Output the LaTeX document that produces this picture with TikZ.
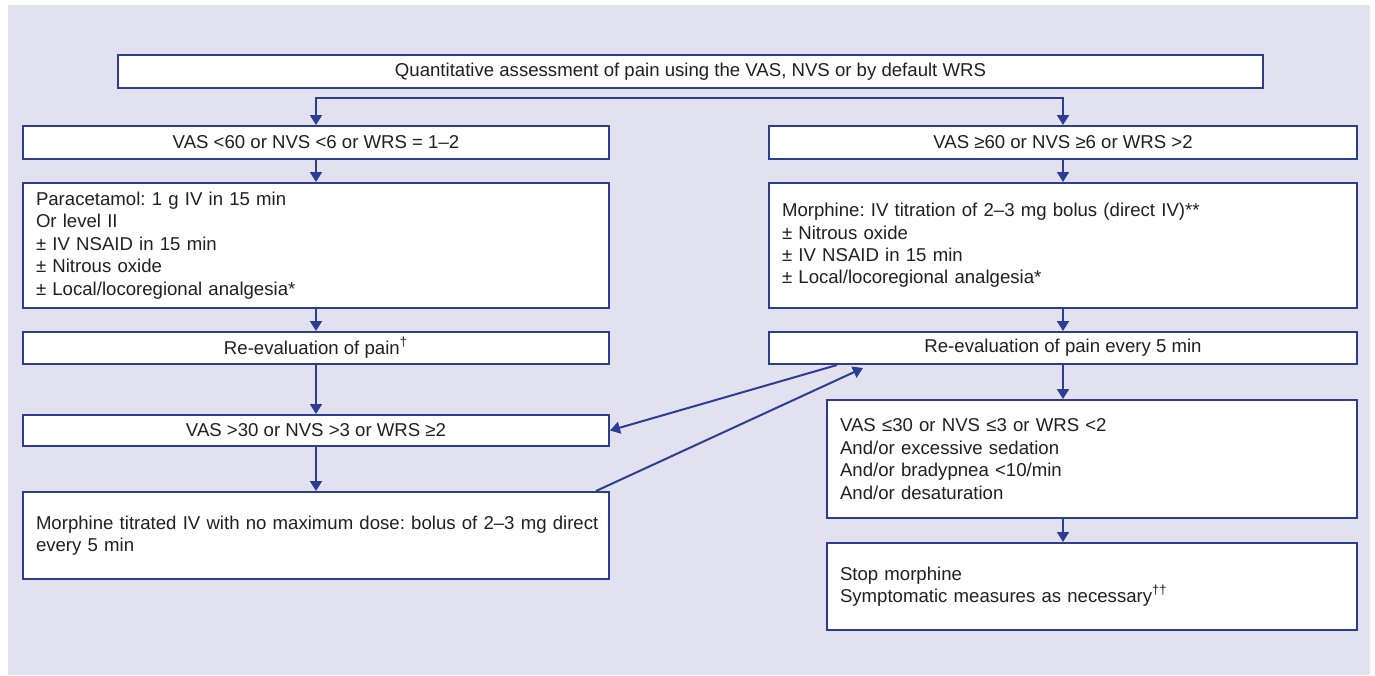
\documentclass[tikz,border=0pt]{standalone}
\usepackage{fontspec}
\setmainfont{Liberation Sans}
\usepackage{tikz}
\usetikzlibrary{arrows.meta,calc}
\definecolor{pagebg}{HTML}{E1E1EF}
\definecolor{flowblue}{HTML}{2E3D94}
\definecolor{inkgray}{HTML}{231F20}
\frenchspacing
\tikzset{
  box/.style={draw=flowblue, line width=1pt, fill=white, inner xsep=6.5pt, inner ysep=0pt,
    text=inkgray, font=\fontsize{9.3}{11.2}\selectfont, anchor=north west},
  onerow/.style 2 args={box, align=center, minimum width=#1, minimum height=#2},
  manyrow/.style n args={3}{box, align=left, text width=#1, minimum width=#2, minimum height=#3},
  flow/.style={draw=flowblue, line width=1pt, -{Triangle[length=5pt,width=6pt]}},
}

\begin{document}
\begin{tikzpicture}[x=0.5pt,y=-0.5pt]
\fill[white] (0,0) rectangle (1375,675);
\useasboundingbox (0,0) rectangle (1375,675);
\fill[pagebg] (8,5) rectangle (1370,675);

\node[onerow={572.5pt}{16.5pt}] (top) at (117,54)
  {Quantitative assessment of pain using the VAS, NVS or by default WRS};
\coordinate (fork) at ($(top.south)+(0,9)$);

% mild pain
\node[onerow={293pt}{16.5pt}] (lowA) at (22,125) {VAS <60 or NVS <6 or WRS = 1–2};
\node[manyrow={280pt}{293pt}{62.5pt}] (lowB) at (22,182)
  {Paracetamol: 1 g IV in 15 min\\Or level II\\± IV NSAID in 15 min\\± Nitrous oxide\\± Local/locoregional analgesia*};
\node[onerow={293pt}{16pt}] (lowR) at (22,331) {Re-evaluation of pain\textsuperscript{†}};
\node[onerow={293pt}{15.5pt}] (lowC) at (22,414) {VAS >30 or NVS >3 or WRS ≥2};
\node[manyrow={280pt}{293pt}{43.5pt}] (lowD) at (22,491)
  {\mbox{Morphine titrated IV with no maximum dose: bolus of 2–3 mg direct}\\every 5 min};

% severe pain
\node[onerow={294pt}{16.5pt}] (highA) at (768,125) {VAS ≥60 or NVS ≥6 or WRS >2};
\node[manyrow={281pt}{294pt}{62.5pt}] (highB) at (768,182)
  {Morphine: IV titration of 2–3 mg bolus (direct IV)**\\± Nitrous oxide\\± IV NSAID in 15 min\\± Local/locoregional analgesia*};
\node[onerow={294pt}{16pt}] (highR) at (768,331) {Re-evaluation of pain every 5 min};
\node[manyrow={252pt}{265pt}{59pt}] (highC) at (826,399)
  {VAS ≤30 or NVS ≤3 or WRS <2\\And/or excessive sedation\\And/or bradypnea <10/min\\And/or desaturation};
\node[manyrow={252pt}{265pt}{43.5pt}] (highD) at (826,542)
  {Stop morphine\\Symptomatic measures as necessary\textsuperscript{††}};

\draw[flow] (fork) -| (lowA.north);
\draw[flow] (fork) -| (highA.north);
\draw[flow] (lowA) -- (lowB);
\draw[flow] (lowB) -- (lowR);
\draw[flow] (lowR) -- (lowC);
\draw[flow] (lowC) -- (lowD);
\draw[flow] (highA) -- (highB);
\draw[flow] (highB) -- (highR);
\draw[flow] (highR.south) -- (highR.south |- highC.north);
\draw[flow] (highR.south |- highC.south) -- (highR.south |- highD.north);
\draw[flow] ([xshift=34.5pt]highR.south west) -- (lowC.east);
\draw[flow] ([xshift=-7pt]lowD.north east) -- ([xshift=47.5pt,yshift=-1.5pt]highR.south west);
\end{tikzpicture}
\end{document}
